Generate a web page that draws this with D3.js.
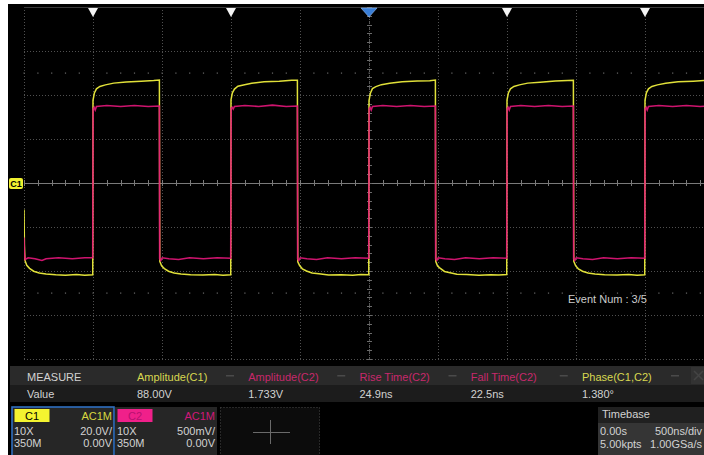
<!DOCTYPE html>
<html><head><meta charset="utf-8">
<script src="https://cdn.jsdelivr.net/npm/d3@7"></script>
<style>
html,body{margin:0;padding:0;background:#fff;overflow:hidden}
svg{display:block}
text{font-family:"Liberation Sans",Arial,sans-serif}
</style>
</head><body><svg id="c" width="704" height="455"></svg>
<script>
// ---------------- DATA ----------------
const timeDomain = [-2500, 2500];          // ns (500 ns/div, 10 div)
const c1Domain = [-80, 80];                 // V  (20.0 V/div, 8 div)
const c2Domain = [-2, 2];                   // V  (500 mV/div, 8 div)
const eventTimes = [-2000, -1000, 1000, 2000];
const triggerTime = 0;
const refLevelsC1 = [50, -50];

// C1 trace [time ns, volts]
const c1Trace = [
 [-2500,-12.0],[-2497,-28.0],[-2493,-35.2],[-2480,-37.4],[-2460,-38.8],[-2430,-40.1],[-2390,-40.9],[-2340,-41.4],[-2270,-41.7],[-2200,-41.9],[-2120,-41.6],[-2060,-41.9],[-2002,-41.7],
 [-2000,37.6],[-1990,40.9],[-1975,42.8],[-1950,43.9],[-1910,44.6],[-1850,45.4],[-1760,45.9],[-1650,46.3],[-1560,46.6],[-1519,46.8],
 [-1516,-35.6],[-1503,-37.6],[-1483,-38.9],[-1453,-40.1],[-1413,-40.9],[-1363,-41.4],[-1293,-41.7],[-1203,-41.8],[-1118,-41.6],[-1058,-41.9],[-1002,-41.7],
 [-1000,37.8],[-990,41.0],[-975,42.7],[-950,44.0],[-910,44.5],[-850,45.3],[-760,46.0],[-650,46.2],[-560,46.7],[-519,46.7],
 [-516,-35.8],[-503,-37.5],[-483,-39.0],[-453,-40.0],[-413,-40.9],[-363,-41.3],[-293,-41.8],[-203,-41.7],[-118,-41.9],[-58,-41.6],[-2,-41.7],
 [0,37.5],[10,40.8],[25,42.9],[50,43.8],[90,44.7],[150,45.3],[240,46.0],[350,46.4],[440,46.5],[481,46.8],
 [484,-35.7],[497,-37.7],[517,-38.8],[547,-40.2],[587,-40.8],[637,-41.5],[707,-41.6],[797,-41.9],[882,-41.7],[942,-41.8],[998,-41.6],
 [1000,37.7],[1010,40.9],[1025,42.8],[1050,43.9],[1090,44.6],[1150,45.4],[1240,45.8],[1350,46.4],[1440,46.6],[1481,46.7],
 [1484,-35.6],[1497,-37.6],[1517,-39.0],[1547,-40.1],[1587,-40.9],[1637,-41.4],[1707,-41.7],[1797,-41.8],[1882,-41.6],[1942,-41.9],[1998,-41.7],
 [2000,37.6],[2010,41.0],[2025,42.8],[2050,43.9],[2090,44.6],[2150,45.3],[2240,46.0],[2350,46.3],[2440,46.6],[2500,46.7]
];

// C2 trace [time ns, volts]
const c2Trace = [
 [-2500,-0.62],[-2497,-0.80],[-2492,-0.87],[-2470,-0.85],[-2420,-0.86],[-2370,-0.88],[-2340,-0.86],[-2250,-0.85],[-2150,-0.86],[-2060,-0.85],[-2002,-0.85],
 [-1999,0.84],[-1992,0.86],[-1984,0.83],[-1975,0.87],[-1900,0.88],[-1800,0.87],[-1700,0.88],[-1600,0.87],[-1519,0.875],
 [-1517,-0.86],[-1509,-0.88],[-1498,-0.85],[-1450,-0.86],[-1380,-0.87],[-1300,-0.85],[-1200,-0.86],[-1100,-0.85],[-1002,-0.855],
 [-999,0.85],[-992,0.86],[-984,0.84],[-975,0.87],[-900,0.88],[-800,0.87],[-700,0.885],[-600,0.87],[-519,0.875],
 [-517,-0.86],[-509,-0.88],[-498,-0.85],[-450,-0.86],[-380,-0.87],[-300,-0.85],[-200,-0.86],[-100,-0.85],[-2,-0.855],
 [1,0.84],[8,0.86],[16,0.83],[25,0.87],[100,0.88],[200,0.87],[300,0.88],[400,0.87],[481,0.875],
 [483,-0.86],[491,-0.88],[502,-0.85],[550,-0.86],[620,-0.87],[700,-0.85],[800,-0.86],[900,-0.85],[998,-0.855],
 [1001,0.84],[1008,0.86],[1016,0.83],[1025,0.87],[1100,0.88],[1200,0.87],[1300,0.88],[1400,0.87],[1481,0.875],
 [1483,-0.86],[1491,-0.88],[1502,-0.85],[1550,-0.86],[1620,-0.87],[1700,-0.85],[1800,-0.86],[1900,-0.85],[1998,-0.855],
 [2001,0.84],[2008,0.86],[2016,0.83],[2025,0.87],[2100,0.88],[2200,0.87],[2300,0.88],[2400,0.87],[2500,0.875]
];

const measureHeader = "MEASURE";
const measureNames = ["Amplitude(C1)", "Amplitude(C2)", "Rise Time(C2)", "Fall Time(C2)", "Phase(C1,C2)"];
const measureChannels = ["C1", "C2", "C2", "C2", "C1"];
const measureValues = ["88.00V", "1.733V", "24.9ns", "22.5ns", "1.380°"];
const channelNames = ["C1", "C2"];
const channelCoupling = ["AC1M", "AC1M"];
const channelProbe = ["10X", "10X"];
const channelScale = ["20.0V/", "500mV/"];
const channelBandwidth = ["350M", "350M"];
const channelOffset = ["0.00V", "0.00V"];
const timebaseLabels = ["Timebase", "0.00s", "500ns/div", "5.00kpts", "1.00GSa/s"];
const eventLabel = "Event Num : 3/5";

// ---------------- STYLE ----------------
const COL = { C1: "#ecec3c", C2: "#e4167a", grid: "#505050", text: "#d2d2d2" };

const svg = d3.select("#c");
const L = 24, R = 714, T = 7, B = 359;
const x = d3.scaleLinear().domain(timeDomain).range([L, R]);
const y1 = d3.scaleLinear().domain(c1Domain).range([B, T]);
const y2 = d3.scaleLinear().domain(c2Domain).range([B, T]);

// black screen
svg.append("rect").attr("x", 8).attr("y", 4).attr("width", 696).attr("height", 451).attr("fill", "#000");

const defs = svg.append("defs");
defs.append("clipPath").attr("id", "plot").append("rect").attr("x", L).attr("y", T).attr("width", 704 - L).attr("height", B - T);

// grid via axes
const gx = svg.append("g").attr("transform", `translate(0,${B})`)
  .call(d3.axisBottom(x).ticks(10).tickSize(-(B - T)).tickFormat(""));
const gy = svg.append("g").attr("transform", `translate(${L},0)`)
  .call(d3.axisLeft(y1).ticks(8).tickSize(-(R - L)).tickFormat(""));
[gx, gy].forEach(g => {
  g.select(".domain").remove();
  g.selectAll(".tick line").attr("stroke", COL.grid).attr("stroke-dasharray", "1,2").attr("shape-rendering", "crispEdges");
});
// top border
svg.append("line").attr("x1", L).attr("x2", 704).attr("y1", T).attr("y2", T).attr("stroke", "#3a3a3a").attr("shape-rendering", "crispEdges");

// reference dot rows
const fineT = d3.range(timeDomain[0], timeDomain[1] + 1, 100);
refLevelsC1.forEach(v => {
  svg.append("g").selectAll("rect").data(fineT).join("rect")
    .attr("x", d => x(d) - 0.5).attr("y", y1(v) - 0.5).attr("width", 1.2).attr("height", 1.2).attr("fill", "#6a6a6a");
});

// center cross with ticks
svg.append("line").attr("x1", L).attr("x2", 704).attr("y1", y1(0)).attr("y2", y1(0)).attr("stroke", "#7a7a7a").attr("shape-rendering", "crispEdges");
svg.append("g").selectAll("line").data(fineT).join("line")
  .attr("x1", d => Math.round(x(d)) + 0.5).attr("x2", d => Math.round(x(d)) + 0.5)
  .attr("y1", y1(0) - 3).attr("y2", y1(0) + 3).attr("stroke", "#7a7a7a");
svg.append("line").attr("x1", x(0)).attr("x2", x(0)).attr("y1", T).attr("y2", B).attr("stroke", "#5a5a5a").attr("stroke-dasharray", "1,1").attr("shape-rendering", "crispEdges");
const fineV = d3.range(c1Domain[0], c1Domain[1] + 1, 4);
svg.append("g").selectAll("line").data(fineV).join("line")
  .attr("x1", x(0) - 2).attr("x2", x(0) + 3)
  .attr("y1", d => Math.round(y1(d)) + 0.5).attr("y2", d => Math.round(y1(d)) + 0.5).attr("stroke", "#6a6a6a");

// traces
const plot = svg.append("g").attr("clip-path", "url(#plot)");
plot.append("path").datum(c1Trace)
  .attr("d", d3.line().x(d => x(d[0])).y(d => y1(d[1])))
  .attr("fill", "none").attr("stroke", COL.C1).attr("stroke-width", 1.5).attr("stroke-opacity", 0.95);
plot.append("path").datum(c2Trace)
  .attr("d", d3.line().x(d => x(d[0])).y(d => y2(d[1])))
  .attr("fill", "none").attr("stroke", COL.C2).attr("stroke-width", 1.6).attr("stroke-opacity", 0.9);

// event markers
svg.append("g").selectAll("path").data(eventTimes).join("path")
  .attr("d", d => `M${x(d) - 5},8 L${x(d) + 5},8 L${x(d)},17 Z`).attr("fill", "#f4f4f4");
svg.append("path")
  .attr("d", `M${x(triggerTime) - 8},8 L${x(triggerTime) + 8},8 L${x(triggerTime)},17 Z`)
  .attr("fill", "#3a7fd8").attr("stroke", "#9cc0f0").attr("stroke-width", 0.6);

// C1 level tag
svg.append("rect").attr("x", 9).attr("y", y1(0) - 5).attr("width", 14).attr("height", 11).attr("rx", 2).attr("fill", "#f0f030");
svg.append("text").attr("x", 16).attr("y", y1(0) + 3.5).attr("text-anchor", "middle")
  .attr("font-size", 9).attr("font-weight", "bold").attr("fill", "#000").text(channelNames[0]);

// event num
svg.append("text").attr("x", 568).attr("y", 303).attr("font-size", 11).attr("fill", "#cccccc").text(eventLabel);

// measure panel
svg.append("rect").attr("x", 10).attr("y", 366).attr("width", 694).attr("height", 19).attr("fill", "#2a2a2a");
svg.append("rect").attr("x", 10).attr("y", 385).attr("width", 694).attr("height", 17).attr("fill", "#1c1c1c");
svg.append("text").attr("x", 27).attr("y", 381).attr("font-size", 11).attr("fill", COL.text).text(measureHeader);
svg.append("text").attr("x", 27).attr("y", 398).attr("font-size", 11).attr("fill", COL.text).text("Value");
const colX = d3.scalePoint().domain(measureNames).range([137, 582]);
measureNames.forEach((n, i) => {
  const cx = colX(n);
  svg.append("text").attr("x", cx).attr("y", 381).attr("font-size", 11)
    .attr("fill", measureChannels[i] === "C1" ? "#d8d850" : "#c8286c").text(n);
  svg.append("text").attr("x", cx).attr("y", 398).attr("font-size", 11).attr("fill", COL.text).text(measureValues[i]);
  svg.append("rect").attr("x", cx + 89).attr("y", 375).attr("width", 8).attr("height", 1.5).attr("fill", "#4a4a4a");
});
svg.append("rect").attr("x", 691).attr("y", 367).attr("width", 13).attr("height", 17).attr("fill", "#333");
svg.append("path").attr("d", "M694,371 L703,380 M703,371 L694,380").attr("stroke", "#444").attr("stroke-width", 1.5);

// channel boxes
const boxX = [12, 115];
channelNames.forEach((c, i) => {
  const bx = boxX[i], w = 102;
  svg.append("rect").attr("x", bx).attr("y", 407).attr("width", w).attr("height", 50)
    .attr("fill", "#262626").attr("stroke", i === 0 ? "#2f6fc0" : "none").attr("stroke-width", 1.6);
  svg.append("rect").attr("x", bx + 2.5).attr("y", 409).attr("width", 35).attr("height", 13)
    .attr("fill", i === 0 ? "#f4f430" : "#f0208a");
  svg.append("text").attr("x", bx + 20).attr("y", 420).attr("text-anchor", "middle").attr("font-size", 11)
    .attr("fill", i === 0 ? "#000" : "#b81070").text(c);
  svg.append("text").attr("x", bx + w - 2).attr("y", 420).attr("text-anchor", "end").attr("font-size", 11)
    .attr("fill", i === 0 ? "#d8d840" : "#d0187a").text(channelCoupling[i]);
  svg.append("text").attr("x", bx + 2).attr("y", 435).attr("font-size", 11).attr("fill", COL.text).text(channelProbe[i]);
  svg.append("text").attr("x", bx + w - 2).attr("y", 435).attr("text-anchor", "end").attr("font-size", 11).attr("fill", COL.text).text(channelScale[i]);
  svg.append("text").attr("x", bx + 2).attr("y", 447).attr("font-size", 11).attr("fill", COL.text).text(channelBandwidth[i]);
  svg.append("text").attr("x", bx + w - 2).attr("y", 447).attr("text-anchor", "end").attr("font-size", 11).attr("fill", COL.text).text(channelOffset[i]);
});
// empty add-channel box
svg.append("rect").attr("x", 220.5).attr("y", 407.5).attr("width", 99).attr("height", 50)
  .attr("fill", "#0c0c0c").attr("stroke", "#4a4a4a").attr("stroke-dasharray", "1,2");
svg.append("path").attr("d", "M253,432.5 L290,432.5 M270.5,420 L270.5,444").attr("stroke", "#6a6a6a").attr("stroke-width", 1);

// timebase box
svg.append("rect").attr("x", 598).attr("y", 407).attr("width", 106).attr("height", 16).attr("fill", "#202020");
svg.append("rect").attr("x", 598).attr("y", 423).attr("width", 106).attr("height", 32).attr("fill", "#353535");
svg.append("text").attr("x", 602).attr("y", 418).attr("font-size", 11).attr("fill", COL.text).text(timebaseLabels[0]);
svg.append("text").attr("x", 600).attr("y", 435).attr("font-size", 11).attr("fill", COL.text).text(timebaseLabels[1]);
svg.append("text").attr("x", 702).attr("y", 435).attr("text-anchor", "end").attr("font-size", 11).attr("fill", COL.text).text(timebaseLabels[2]);
svg.append("text").attr("x", 600).attr("y", 448).attr("font-size", 11).attr("fill", COL.text).text(timebaseLabels[3]);
svg.append("text").attr("x", 702).attr("y", 448).attr("text-anchor", "end").attr("font-size", 11).attr("fill", COL.text).text(timebaseLabels[4]);
</script></body></html>
